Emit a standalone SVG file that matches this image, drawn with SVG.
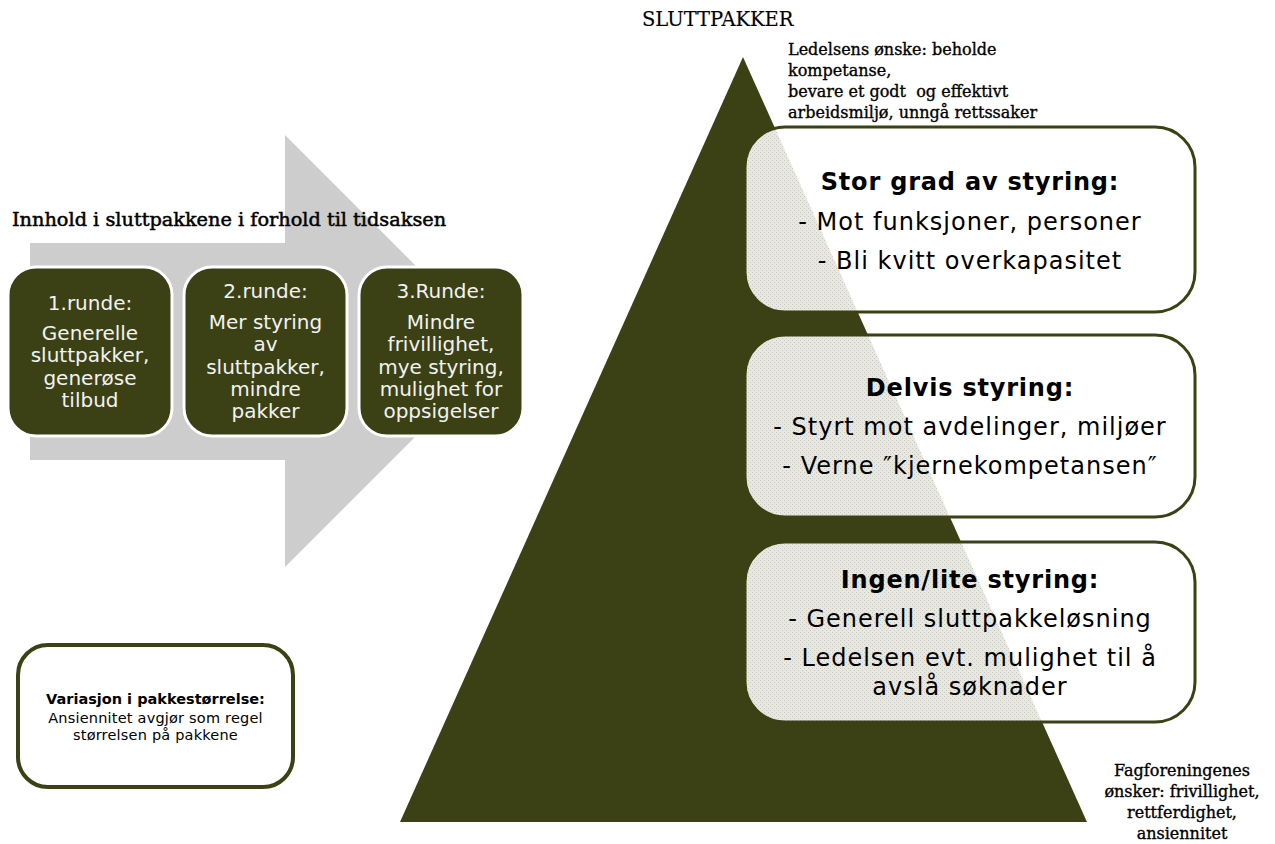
<svg xmlns="http://www.w3.org/2000/svg" width="1275" height="844" viewBox="0 0 1275 844">
<style>
.serif{font-family:"DejaVu Serif","Liberation Serif",serif;fill:#000;stroke:#000;stroke-width:0.35px}
.sans{font-family:"DejaVu Sans","Liberation Sans",sans-serif}
.dark{fill:#3b4114;stroke:#ffffff;stroke-width:3}
.dtxt{fill:#f2f2f2;font-size:20px;text-anchor:middle}
.wbox{fill:#ffffff}
.wstroke{fill:none;stroke:#3b4114;stroke-width:3}
.h{font-weight:bold;font-size:24px;letter-spacing:0.8px;text-anchor:middle;fill:#000}
.r{font-size:24px;letter-spacing:1px;text-anchor:middle;fill:#000}
</style>
<defs>
<pattern id="dots" width="4" height="4" patternUnits="userSpaceOnUse">
<rect width="4" height="4" fill="#e8e8e2"/>
<rect x="0" y="0" width="1" height="1" fill="#c8c8c0"/>
<rect x="2" y="2" width="1" height="1" fill="#c8c8c0"/>
</pattern>
<clipPath id="c1"><rect x="745" y="127" width="450" height="185" rx="40"/></clipPath>
<clipPath id="c2"><rect x="745" y="335" width="450" height="182" rx="40"/></clipPath>
<clipPath id="c3"><rect x="745" y="542" width="450" height="180" rx="40"/></clipPath>
</defs>
<rect width="1275" height="844" fill="#ffffff"/>

<g id="timeline-arrow">
<polygon points="30,243 285,243 285,135 501,351 285,567 285,460 30,460" fill="#cdcdcd"/>
</g>

<text class="serif" x="12" y="226" font-size="19.3" style="stroke-width:0.5px">Innhold i sluttpakkene i forhold til tidsaksen</text>

<g id="runde1">
<rect class="dark" x="8" y="267" width="164" height="169" rx="28"/>
<text class="sans dtxt" x="90" y="310">1.runde:</text>
<text class="sans dtxt" x="90" y="340">Generelle</text>
<text class="sans dtxt" x="90" y="362">sluttpakker,</text>
<text class="sans dtxt" x="90" y="385">generøse</text>
<text class="sans dtxt" x="90" y="407">tilbud</text>
</g>
<g id="runde2">
<rect class="dark" x="184" y="267" width="163" height="169" rx="28"/>
<text class="sans dtxt" x="265.5" y="298">2.runde:</text>
<text class="sans dtxt" x="265.5" y="329">Mer styring</text>
<text class="sans dtxt" x="265.5" y="351">av</text>
<text class="sans dtxt" x="265.5" y="374">sluttpakker,</text>
<text class="sans dtxt" x="265.5" y="396">mindre</text>
<text class="sans dtxt" x="265.5" y="418">pakker</text>
</g>
<g id="runde3">
<rect class="dark" x="359" y="267" width="164" height="169" rx="28"/>
<text class="sans dtxt" x="441" y="298">3.Runde:</text>
<text class="sans dtxt" x="441" y="329">Mindre</text>
<text class="sans dtxt" x="441" y="351">frivillighet,</text>
<text class="sans dtxt" x="441" y="374">mye styring,</text>
<text class="sans dtxt" x="441" y="396">mulighet for</text>
<text class="sans dtxt" x="441" y="418">oppsigelser</text>
</g>

<g id="variasjon">
<rect x="18" y="645" width="275" height="142" rx="30" fill="#ffffff" stroke="#3b4114" stroke-width="4"/>
<text class="sans" x="155.5" y="704" font-size="14.5" font-weight="bold" text-anchor="middle">Variasjon i pakkestørrelse:</text>
<text class="sans" x="155.5" y="723" font-size="14.5" letter-spacing="0.2" text-anchor="middle">Ansiennitet avgjør som regel</text>
<text class="sans" x="155.5" y="740" font-size="14.5" letter-spacing="0.2" text-anchor="middle">størrelsen på pakkene</text>
</g>

<text class="serif" x="642" y="26" font-size="19.5" style="stroke-width:0.15px">SLUTTPAKKER</text>

<g id="pyramid">
<polygon points="743,57 1087,822 400,822" fill="#3b4114"/>
</g>

<g id="ledelsen-text">
<text class="serif" x="788" y="55" font-size="16">Ledelsens ønske: beholde</text>
<text class="serif" x="788" y="76" font-size="16">kompetanse,</text>
<text class="serif" x="788" y="97" font-size="16" xml:space="preserve">bevare et godt  og effektivt</text>
<text class="serif" x="788" y="118" font-size="16">arbeidsmiljø, unngå rettssaker</text>
</g>

<g id="stor-grad">
<rect class="wbox" x="745" y="127" width="450" height="185" rx="40"/>
<polygon points="743,57 1087,822 400,822" fill="url(#dots)" clip-path="url(#c1)"/>
<rect class="wstroke" x="745" y="127" width="450" height="185" rx="40"/>
<text class="sans h" x="970" y="190">Stor grad av styring:</text>
<text class="sans r" x="970" y="230">- Mot funksjoner, personer</text>
<text class="sans r" x="970" y="269">- Bli kvitt overkapasitet</text>
</g>

<g id="delvis">
<rect class="wbox" x="745" y="335" width="450" height="182" rx="40"/>
<polygon points="743,57 1087,822 400,822" fill="url(#dots)" clip-path="url(#c2)"/>
<rect class="wstroke" x="745" y="335" width="450" height="182" rx="40"/>
<text class="sans h" x="970" y="396">Delvis styring:</text>
<text class="sans r" x="970" y="435">- Styrt mot avdelinger, miljøer</text>
<text class="sans r" x="970" y="474">- Verne ″kjernekompetansen″</text>
</g>

<g id="ingen">
<rect class="wbox" x="745" y="542" width="450" height="180" rx="40"/>
<polygon points="743,57 1087,822 400,822" fill="url(#dots)" clip-path="url(#c3)"/>
<rect class="wstroke" x="745" y="542" width="450" height="180" rx="40"/>
<text class="sans h" x="970" y="588">Ingen/lite styring:</text>
<text class="sans r" x="970" y="627">- Generell sluttpakkeløsning</text>
<text class="sans r" x="970" y="666">- Ledelsen evt. mulighet til å</text>
<text class="sans r" x="970" y="695">avslå søknader</text>
</g>

<g id="fagforening-text">
<text class="serif" x="1182" y="776" font-size="16" text-anchor="middle">Fagforeningenes</text>
<text class="serif" x="1182" y="797" font-size="16" text-anchor="middle">ønsker: frivillighet,</text>
<text class="serif" x="1182" y="818" font-size="16" text-anchor="middle">rettferdighet,</text>
<text class="serif" x="1182" y="839" font-size="16" text-anchor="middle">ansiennitet</text>
</g>
</svg>
